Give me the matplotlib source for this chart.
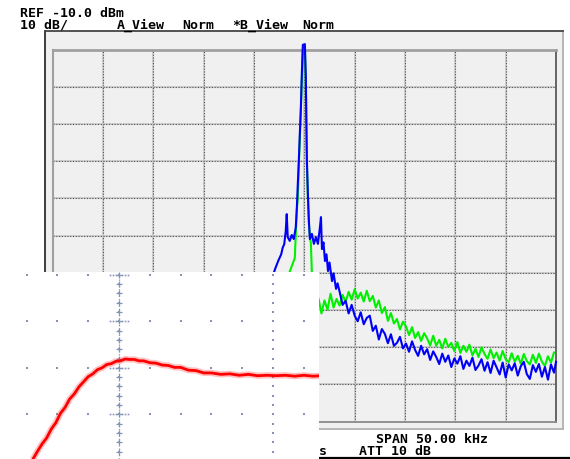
import matplotlib

matplotlib.use("Agg")
import matplotlib.pyplot as plt
from matplotlib.lines import Line2D
import numpy as np

W, H = 570, 460

# Analyzer settings (REF -10 dBm, 10 dB/div, span 50 kHz)
ref_level = -10.0
db_per_div = 10.0
span_khz = 50.0

# Trace B (blue): frequency offset from centre (kHz) and level (dBm)
blue_freq = [-3.4, -2.9, -2.6, -2.3, -2.15, -2.0, -1.85, -1.75, -1.65, -1.45, -1.25,
             -1.05, -0.85, -0.75, -0.65, -0.55, -0.45, -0.35, -0.25, -0.15, 0.05,
             0.15, 0.2, 0.25, 0.35, 0.45, 0.55, 0.75, 0.95, 1.15, 1.35,
             1.55, 1.65, 1.75, 1.9, 2.05, 2.2, 2.35, 2.5, 2.75, 2.9, 3.15, 3.3,
             3.5, 3.8, 4.1, 4.4, 4.7, 5.0, 5.3, 5.6, 5.9, 6.2, 6.5, 6.8, 7.1, 7.4,
             7.7, 8.0, 8.3, 8.6, 8.9, 9.2, 9.5, 9.8, 10.1, 10.4, 10.7, 11.0, 11.3,
             11.6, 11.9, 12.2, 12.5, 12.8, 13.1, 13.4, 13.7, 14.0, 14.3, 14.6, 14.9,
             15.2, 15.5, 15.8, 16.1, 16.4, 16.7, 17.0, 17.3, 17.6, 17.9, 18.2, 18.5,
             18.8, 19.1, 19.4, 19.7, 20.0, 20.3, 20.6, 20.9, 21.2, 21.5, 21.8, 22.1,
             22.4, 22.7, 23.0, 23.3, 23.6, 23.9, 24.2, 24.5, 24.8, 25.0]
blue_level = [-73.0, -68.9, -66.8, -65.0, -63.2, -62.3, -58.8, -54.2, -60.4, -61.4, -59.8,
              -60.9, -57.7, -52.8, -46.1, -39.9, -32.7, -26.0, -16.5, -8.7, -8.5,
              -17.8, -30.0, -39.4, -48.8, -56.0, -60.9, -59.5, -62.2, -60.4, -62.2,
              -57.7, -55.0, -63.6, -61.8, -66.8, -65.0, -69.5, -67.2, -72.2, -70.1, -74.3, -72.8,
              -75.0, -78.6, -77.5, -80.9, -78.6, -81.5, -83.0, -80.6, -83.8, -82.1,
              -81.5, -85.6, -84.2, -87.9, -85.1, -86.4, -88.9, -86.5, -89.6, -88.8,
              -87.2, -90.3, -89.0, -91.2, -88.4, -90.7, -92.3, -89.6, -91.9, -90.5,
              -93.4, -91.1, -92.6, -94.5, -91.7, -93.9, -92.2, -95.3, -93.0, -94.4,
              -92.4, -95.8, -93.6, -95.0, -92.8, -96.1, -94.9, -93.2, -96.3, -94.0,
              -96.9, -93.6, -95.4, -97.3, -94.1, -98.1, -94.6, -96.2, -94.3, -97.6,
              -95.1, -93.9, -97.2, -98.5, -94.8, -96.6, -94.5, -97.9, -95.3, -98.7,
              -94.6, -96.8, -93.9]

# Trace A (green)
green_freq = [-3.4, -2.4, -1.5, -0.95, -0.85, -0.75, -0.65, -0.55, -0.45, -0.35,
              -0.25, -0.15, 0.05, 0.15, 0.2, 0.25, 0.35, 0.45, 0.55, 0.65,
              0.75, 0.95, 1.25,
              1.4, 1.7, 2.0, 2.3, 2.6, 2.9, 3.2,
              3.5, 3.8, 4.1, 4.4, 4.7, 5.0, 5.3, 5.6, 5.9, 6.2, 6.5, 6.8, 7.1, 7.4,
              7.7, 8.0, 8.3, 8.6, 8.9, 9.2, 9.5, 9.8, 10.1, 10.4, 10.7, 11.0, 11.3,
              11.6, 11.9, 12.2, 12.5, 12.8, 13.1, 13.4, 13.7, 14.0, 14.3, 14.6, 14.9,
              15.2, 15.5, 15.8, 16.1, 16.4, 16.7, 17.0, 17.3, 17.6, 17.9, 18.2, 18.5,
              18.8, 19.1, 19.4, 19.7, 20.0, 20.3, 20.6, 20.9, 21.2, 21.5, 21.8, 22.1,
              22.4, 22.7, 23.0, 23.3, 23.6, 23.9, 24.2, 24.5, 24.8]
green_level = [-80.0, -74.0, -70.0, -66.0, -59.5, -53.0, -50.0, -41.0, -34.0, -26.5,
               -17.9, -9.8, -9.2, -19.1, -29.8, -40.7, -49.3, -56.8, -60.0, -62.1,
               -70.2, -77.0, -79.6,
               -76.8, -80.9, -77.4, -79.9, -75.6, -79.3, -77.0,
               -78.8, -75.9, -77.9, -75.1, -77.2, -74.4, -76.9, -75.3, -77.7, -74.8,
               -77.6, -76.2, -79.3, -77.4, -80.8, -79.2, -82.9, -80.8, -83.6, -82.4,
               -85.2, -83.1, -84.4, -86.7, -84.6, -87.5, -85.9, -88.3, -86.2, -87.6,
               -89.5, -86.9, -89.6, -88.0, -90.3, -87.7, -89.9, -88.8, -91.0, -88.6,
               -91.5, -89.6, -91.2, -89.3, -92.2, -90.4, -92.6, -90.0, -91.8, -93.1,
               -90.6, -92.9, -91.4, -93.6, -91.0, -93.2, -94.0, -91.6, -93.9, -92.3,
               -94.4, -91.8, -93.7, -94.6, -92.0, -94.2, -91.7, -93.9, -95.0, -92.4,
               -94.1, -91.4]

# Inset (scope capture): time and amplitude in divisions
red_time = [-2.80, -2.65, -2.50, -2.35, -2.20, -2.05, -1.90, -1.75, -1.60, -1.45,
            -1.30, -1.15, -1.00, -0.85, -0.70, -0.55, -0.40, -0.25, -0.10, 0.05,
            0.20, 0.35, 0.50, 0.65, 0.80, 1.00, 1.20, 1.40, 1.60, 1.80,
            2.00, 2.25, 2.50, 2.75, 3.00, 3.30, 3.60, 3.90, 4.20, 4.50,
            4.80, 5.10, 5.40, 5.70, 6.00, 6.30, 6.55]
red_value = [-1.97, -1.80, -1.64, -1.51, -1.32, -1.18, -0.98, -0.85, -0.67, -0.56,
             -0.41, -0.30, -0.19, -0.13, -0.04, 0.00, 0.07, 0.09, 0.14, 0.15,
             0.19, 0.18, 0.18, 0.15, 0.15, 0.11, 0.10, 0.06, 0.05, 0.01,
             0.01, -0.05, -0.06, -0.11, -0.11, -0.14, -0.13, -0.16, -0.14, -0.17,
             -0.16, -0.17, -0.16, -0.18, -0.16, -0.18, -0.17]

FONT = dict(family="DejaVu Sans Mono", fontsize=9.5, fontweight="bold", color="black")


def px_rect(x0, y0, x1, y1):
    """Pixel box (top-left origin) -> figure fraction rect."""
    return [x0 / W, 1 - y1 / H, (x1 - x0) / W, (y1 - y0) / H]


fig = plt.figure(figsize=(W / 100, H / 100), dpi=100)
fig.patch.set_facecolor("white")

# outer instrument frame
frame = fig.add_axes(px_rect(45, 32, 563, 430))
frame.set_facecolor("#f0f0f0")
frame.set_xticks([])
frame.set_yticks([])
for side, col in [("left", "#303030"), ("top", "#454545"),
                  ("right", "#b0b0b0"), ("bottom", "#b0b0b0")]:
    frame.spines[side].set_color(col)
    frame.spines[side].set_linewidth(1.3)

# spectrum display
ax = fig.add_axes(px_rect(52.7, 50.7, 556, 422.7))
ax.set_facecolor("#f0f0f0")
ax.set_xlim(-span_khz / 2, span_khz / 2)
ax.set_ylim(ref_level - 10 * db_per_div, ref_level)
xt = np.arange(-span_khz / 2, span_khz / 2 + 1, span_khz / 10)
yt = np.arange(ref_level - 10 * db_per_div, ref_level + 1, db_per_div)
ax.set_xticks(xt)
ax.set_yticks(yt)
ax.tick_params(length=0, labelbottom=False, labelleft=False)
for gx in xt[1:-1]:
    ax.axvline(gx, color="#c6c6c6", lw=1.2, zorder=1)
    ax.axvline(gx, color="#555555", lw=0.8, ls=(0, (1, 1.5)), zorder=1)
for gy in yt[1:-1]:
    ax.axhline(gy, color="#c6c6c6", lw=1.2, zorder=1)
    ax.axhline(gy, color="#555555", lw=0.8, ls=(0, (1, 1.5)), zorder=1)
for side, col, lw in [("top", "#a0a0a0", 2.0), ("left", "#a0a0a0", 1.5),
                      ("right", "#5a5a5a", 1.3), ("bottom", "#8a8a8a", 1.3)]:
    ax.spines[side].set_color(col)
    ax.spines[side].set_linewidth(lw)

ax.plot(green_freq, green_level, color="#00f000", lw=1.5, zorder=3, clip_on=False)
ax.plot(blue_freq, blue_level, color="#0000f8", lw=1.5, zorder=4, clip_on=False)

# header / footer annotations
fig.text(20.5 / W, 1 - 16.7 / H, "REF -10.0 dBm", va="baseline", **FONT)
for x, s in [(20.5, "10 dB/"), (117, "A_View"), (182, "Norm"),
             (232, "*B_View"), (302, "Norm")]:
    fig.text(x / W, 1 - 29 / H, s, va="baseline", **FONT)
fig.text(375.7 / W, 1 - 443.5 / H, "SPAN 50.00 kHz", va="baseline", **FONT)
fig.text(359.3 / W, 1 - 455.5 / H, "ATT 10 dB", va="baseline", **FONT)
fig.text(319 / W, 1 - 455.5 / H, "s", va="baseline", **FONT)
fig.add_artist(Line2D([319 / W, 1], [1 - 459 / H] * 2, color="black", lw=1.6))

# pasted scope capture
ins = fig.add_axes(px_rect(21, 273, 319, 460))
ins.set_zorder(5)
ins.set_facecolor("white")
ins.set_xlim(-3.18, 6.49)
ins.set_ylim(-1.96, 2.06)
ins.set_xticks([])
ins.set_yticks([])
for sp in ins.spines.values():
    sp.set_visible(False)

dot = "#8494b4"
major_t = np.arange(-3, 7)
major_v = np.arange(-1, 3)
minor_v = np.arange(-1.8, 2.01, 0.2)
tt, vv = np.meshgrid(major_t, major_v)
ins.plot(tt.ravel(), vv.ravel(), ls="none", marker="s", ms=1.5, color=dot, mew=0)
for t in [0, 5]:
    ins.plot(np.full_like(minor_v, t), minor_v, ls="none", marker="s", ms=1.5,
             color=dot, mew=0)
ins.axvline(0, color=dot, lw=0.9, ls=(0, (1, 1.6)))
ins.plot(np.zeros_like(minor_v), minor_v, ls="none", marker="+", ms=4.5,
         color=dot, mew=0.9)
near = np.array([-0.3, -0.2, -0.1, 0.1, 0.2, 0.3])
nt, nv = np.meshgrid(near, major_v)
ins.plot(nt.ravel(), nv.ravel(), ls="none", marker="s", ms=1.2, color=dot, mew=0)

ins.plot(red_time, red_value, color="#ff3030", lw=4.5, alpha=0.3,
         solid_capstyle="butt")
ins.plot(red_time, red_value, color="#ff0000", lw=2.0)

fig.savefig("out.png", dpi=100)
plt.close(fig)
